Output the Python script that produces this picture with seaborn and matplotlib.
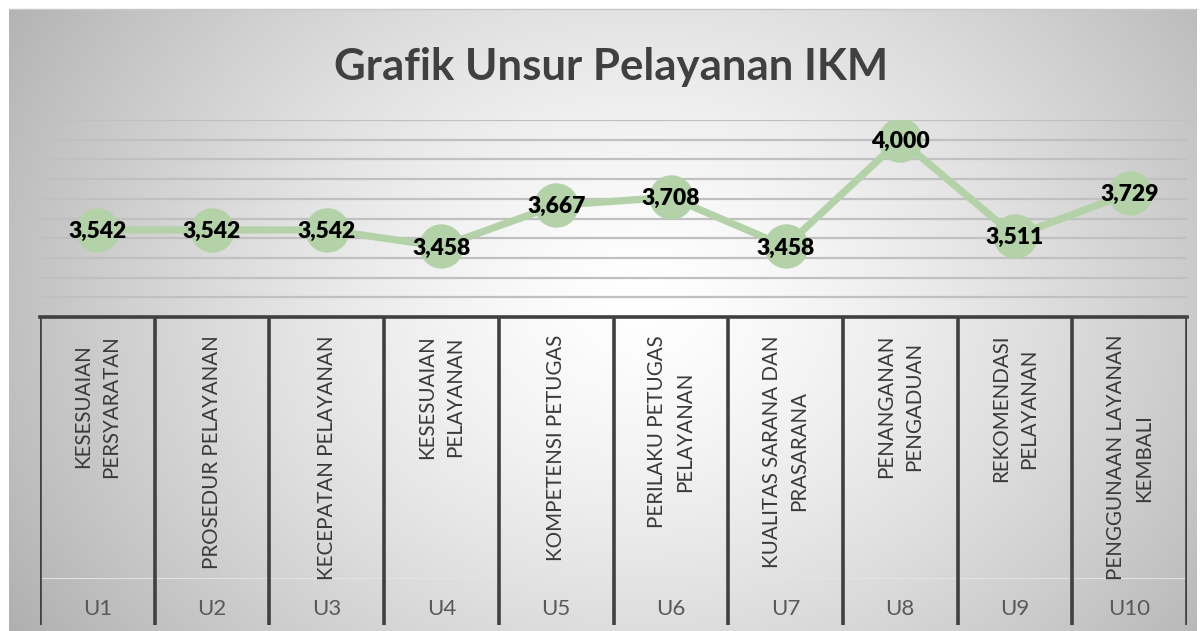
import numpy as np
import pandas as pd
import matplotlib
matplotlib.use("Agg")
import matplotlib.pyplot as plt
import seaborn as sns

# ---- data ----
codes = ["U1", "U2", "U3", "U4", "U5", "U6", "U7", "U8", "U9", "U10"]
names = [
    "KESESUAIAN\nPERSYARATAN",
    "PROSEDUR PELAYANAN",
    "KECEPATAN PELAYANAN",
    "KESESUAIAN\nPELAYANAN",
    "KOMPETENSI PETUGAS",
    "PERILAKU PETUGAS\nPELAYANAN",
    "KUALITAS SARANA DAN\nPRASARANA",
    "PENANGANAN\nPENGADUAN",
    "REKOMENDASI\nPELAYANAN",
    "PENGGUNAAN LAYANAN\nKEMBALI",
]
values = [3.542, 3.542, 3.542, 3.458, 3.667, 3.708, 3.458, 4.000, 3.511, 3.729]
value_labels = ["3,542", "3,542", "3,542", "3,458", "3,667", "3,708", "3,458", "4,000", "3,511", "3,729"]
title = "Grafik Unsur Pelayanan IKM"

sns.set_theme(style="white")
plt.rcParams["font.family"] = ["Lato", "DejaVu Sans"]

W, H = 1203, 631
fig = plt.figure(figsize=(W / 100, H / 100), dpi=100)
fig.patch.set_facecolor("white")

def fx(px):
    return px / W

def fy(py):
    return 1 - py / H

# ---- background gradient ----
bg_l, bg_r, bg_t, bg_b = 9, 1197, 9, 631
bg = fig.add_axes([fx(bg_l), fy(bg_b), fx(bg_r - bg_l), (bg_b - bg_t) / H], zorder=-10)
yy, xx = np.mgrid[bg_t:bg_b, bg_l:bg_r]
cx, cy = 640, 300
r = np.sqrt(((xx - cx) / 640.0) ** 2 + ((yy - cy) / 520.0) ** 2)
v = 1.0 - 0.25 * np.clip(r, 0, 1.2) ** 1.4
bg.imshow(np.dstack([v, v, v]), aspect="auto", extent=[0, 1, 0, 1], interpolation="bilinear")
bg.set_axis_off()
fig.add_artist(plt.Line2D([fx(bg_l), fx(bg_r)], [fy(bg_t), fy(bg_t)], color="#c8c8c8", lw=1))

# ---- main plot ----
pl, pr, pt, pb = 40, 1187, 120, 317
ax = fig.add_axes([fx(pl), fy(pb), fx(pr - pl), (pb - pt) / H])
ax.patch.set_alpha(0)
x_pos = np.arange(len(codes))
sns.lineplot(x=x_pos, y=values, ax=ax, color="#b4d2a7", linewidth=5.2,
             marker="o", markersize=32, markeredgewidth=0, zorder=3)
ax.set_xlim(-0.5, len(codes) - 0.5)
ax.set_ylim(3.1, 4.1)
ax.set_yticks(np.arange(3.1, 4.1001, 0.1))
ax.set_yticklabels([])
ax.set_xticks([])
ax.tick_params(left=False, bottom=False)
ax.grid(axis="y", color="#c0c0c0", lw=1.6)
ax.grid(axis="x", visible=False)
for s in ["top", "left", "right"]:
    ax.spines[s].set_visible(False)
ax.spines["bottom"].set_color("#404040")
ax.spines["bottom"].set_linewidth(2.6)
ax.set_xlabel("")
ax.set_ylabel("")
for xi, val, lab in zip(x_pos, values, value_labels):
    ax.text(xi, val - 0.008, lab, ha="center", va="center", fontsize=16.5,
            fontweight="heavy", color="black", zorder=5)

# ---- category axis area ----
la = fig.add_axes([fx(pl), 0, fx(pr - pl), (H - pb) / H])
la.patch.set_alpha(0)
la.set_xlim(-0.5, len(codes) - 0.5)
la.set_ylim(H - pb, 0)
la.set_axis_off()
la.hlines(578 - pb, -0.5, len(codes) - 0.5, color="#e4e4e4", lw=0.7)
la.vlines(np.arange(len(codes) + 1) - 0.5, 0, 625 - pb, color="#404040", lw=2.6)
for xi, nm, cd in zip(x_pos, names, codes):
    la.text(xi, 335 - pb, nm, rotation=90, ha="center", va="top",
            multialignment="center", fontsize=14.8, color="#3a3a3a", linespacing=1.5)
    la.text(xi, 609 - pb, cd, ha="center", va="center", fontsize=16, color="#595959")

fig.text(fx(611), fy(80), title, ha="center", va="baseline", fontsize=31.5,
         fontweight="bold", color="#404040")

fig.savefig("out.png", dpi=100)
